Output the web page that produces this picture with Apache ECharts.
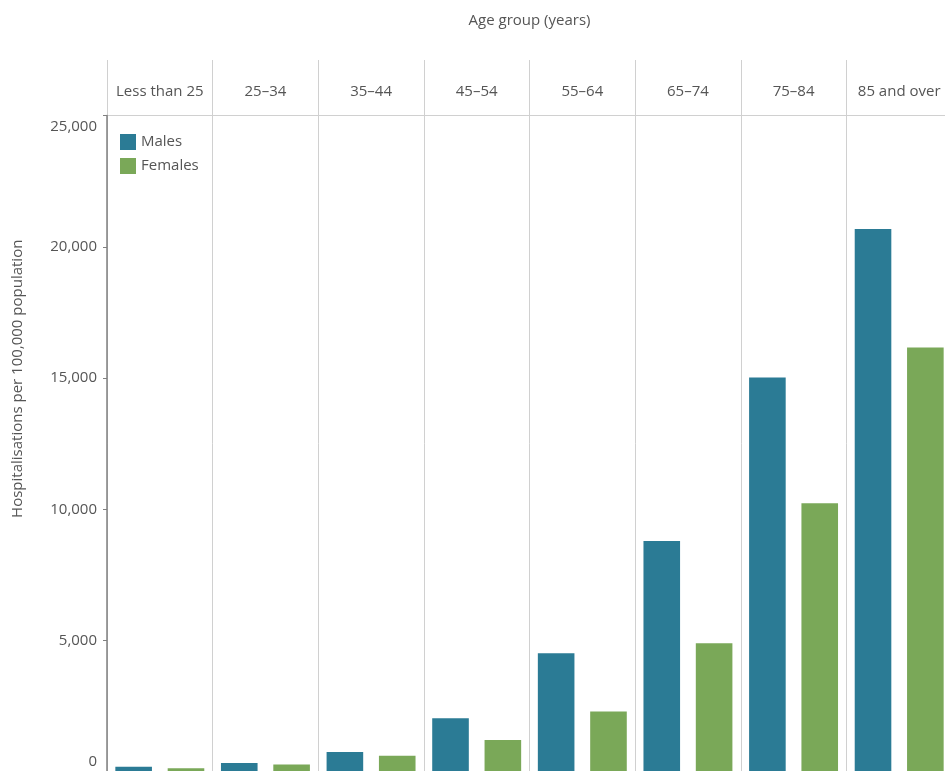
<!DOCTYPE html>
<html>
<head>
<meta charset="utf-8">
<script src="https://cdn.jsdelivr.net/npm/echarts@6/dist/echarts.min.js"></script>
<style>
html,body{margin:0;padding:0;background:#fff;}
#chart{width:945px;height:771px;}
</style>
</head>
<body>
<div id="chart"></div>
<script>
const categories = ['Less than 25', '25–34', '35–44', '45–54', '55–64', '65–74', '75–84', '85 and over'];
const males = [200, 340, 760, 2050, 4520, 8800, 15020, 20680];
const females = [140, 290, 620, 1220, 2300, 4900, 10230, 16170];
const yTicks = [0, 5000, 10000, 15000, 20000, 25000];

const FONT = 'Open Sans';
const TXT = '#555555';
const DIV = '#d0d0d0';

const chart = echarts.init(document.getElementById('chart'), null, {renderer: 'canvas'});
chart.setOption({
  animation: false,
  backgroundColor: '#ffffff',
  textStyle: {fontFamily: FONT},
  grid: [
    {left: 107, top: 115.5, width: 845, height: 656.5, containLabel: false, outerBoundsMode: 'none'},
    {left: 107, top: 60, width: 845, height: 55.5, containLabel: false, outerBoundsMode: 'none'}
  ],
  legend: {
    data: ['Males', 'Females'],
    orient: 'vertical',
    left: 120,
    top: 134,
    padding: 0,
    icon: 'rect',
    itemWidth: 16,
    itemHeight: 16,
    itemGap: 8,
    textStyle: {fontFamily: FONT, fontSize: 15, color: TXT}
  },
  xAxis: [
    {
      type: 'category',
      gridIndex: 0,
      data: categories,
      position: 'top',
      name: 'Age group (years)',
      nameLocation: 'middle',
      nameGap: 87,
      nameTextStyle: {fontFamily: FONT, fontSize: 15, color: TXT},
      axisLine: {show: true, onZero: false, lineStyle: {color: DIV, width: 1}},
      axisTick: {show: false},
      axisLabel: {interval: 0, margin: 16, fontFamily: FONT, fontSize: 15, color: TXT},
      splitLine: {show: true, interval: 0, lineStyle: {color: DIV, width: 1}}
    },
    {
      type: 'category',
      gridIndex: 1,
      data: categories,
      position: 'bottom',
      axisLine: {show: true, onZero: false, lineStyle: {color: DIV, width: 1}},
      axisTick: {show: false},
      axisLabel: {show: false},
      splitLine: {show: true, interval: 0, lineStyle: {color: DIV, width: 1}}
    }
  ],
  yAxis: [
    {
      type: 'value',
      gridIndex: 0,
      z: 10,
      min: yTicks[0],
      max: yTicks[yTicks.length - 1],
      interval: 5000,
      name: 'Hospitalisations per 100,000 population',
      nameLocation: 'middle',
      nameGap: 82,
      nameTextStyle: {fontFamily: FONT, fontSize: 15, color: TXT, padding: [0, 0, 0, 130]},
      axisLine: {show: true, onZero: false, lineStyle: {color: '#808080', width: 1.5}},
      axisTick: {show: true, length: 4, lineStyle: {color: '#808080', width: 1}},
      splitLine: {show: false},
      axisLabel: {
        margin: 10,
        fontFamily: FONT,
        fontSize: 15,
        color: TXT,
        formatter: function (v) {
          const s = v.toLocaleString('en-US');
          if (v === yTicks[yTicks.length - 1]) return '{top|' + s + '}';
          if (v === 0) return '{bot|' + s + '}';
          return s;
        },
        rich: {
          top: {padding: [23, 0, 0, 0], fontFamily: FONT, fontSize: 15, color: TXT},
          bot: {padding: [0, 0, 20, 0], fontFamily: FONT, fontSize: 15, color: TXT}
        }
      }
    },
    {
      type: 'value',
      gridIndex: 1,
      show: false,
      min: 0,
      max: 1
    }
  ],
  series: [
    {
      name: 'Males',
      type: 'bar',
      xAxisIndex: 0,
      yAxisIndex: 0,
      data: males,
      barWidth: 36.6,
      barGap: '43%',
      itemStyle: {color: '#2b7b95'}
    },
    {
      name: 'Females',
      type: 'bar',
      xAxisIndex: 0,
      yAxisIndex: 0,
      data: females,
      barWidth: 36.6,
      barGap: '43%',
      itemStyle: {color: '#7aa858'}
    }
  ]
});
</script>
</body>
</html>
